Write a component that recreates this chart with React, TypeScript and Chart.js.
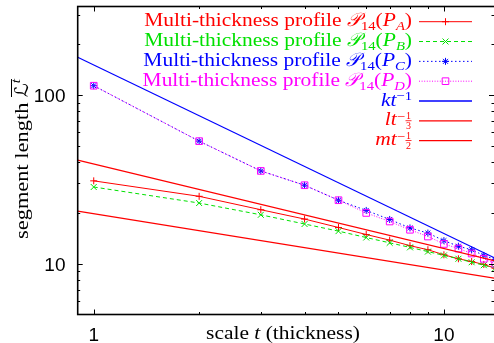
import React, { useEffect, useRef } from "react";
import { Chart, registerables } from "chart.js";
Chart.register(...registerables);

// ---------- data ----------
const thickness = [1, 2, 3, 4, 5, 6, 7, 8, 9, 10, 11, 12, 13, 14];
const profileA = [31.0, 25.1, 20.9, 18.4, 16.4, 14.9, 13.8, 12.8, 12.1, 11.3, 10.7, 10.3, 9.9, 9.4];
const profileB = [28.5, 22.9, 19.5, 17.2, 15.6, 14.3, 13.3, 12.5, 11.8, 11.2, 10.7, 10.2, 9.8, 9.4];
const profileC = [113.6, 53.3, 35.5, 29.2, 23.8, 20.7, 18.3, 16.3, 15.2, 13.7, 12.7, 12.1, 11.2, 10.6];
const profileD = [113.6, 53.3, 35.5, 29.2, 23.8, 20.0, 17.8, 15.9, 14.5, 13.1, 12.3, 11.5, 10.7, 10.0];
// fitted power laws, end points read at t = 0.9 and t = 14
const fitT = [0.9, 14];
const fitK = [167.6, 10.8]; // k t^-1
const fitL = [20.5, 8.2]; // l t^-1/3
const fitM = [41.1, 10.4]; // m t^-1/2

const xMajorTicks = [1, 10];
const xTickLabels = ["1", "10"];
const xMinorTicks = [2, 3, 4, 5, 6, 7, 8, 9];
const yMajorTicks = [10, 100];
const yTickLabels = ["10", "100"];
const yMinorTicks = [6, 7, 8, 9, 20, 30, 40, 50, 60, 70, 80, 90, 200, 300];

const profileLetters = ["A", "B", "C", "D"];
const profileText = "Multi-thickness profile ";
const xTitleParts = ["scale ", "t", " (thickness)"];
const yTitleText = "segment length ";

// ---------- styles ----------
const RED = "#ff0000";
const GREEN = "#00e000";
const BLUE = "#0000ff";
const MAGENTA = "#ff00ff";

const SERIF = "'Liberation Serif', 'Times New Roman', serif";
const SANS = "'Liberation Sans', Arial, sans-serif";
const RM = `19px ${SERIF}`;
const IT = `italic 19px ${SERIF}`;
const SUB = `13px ${SERIF}`;
const SUBIT = `italic 13px ${SERIF}`;
const FRAC = `10px ${SERIF}`;
const SCRIPT = `italic 19px 'DejaVu Serif', 'DejaVu Sans', serif`;
const SX = 1.13;

type Seg = { text?: string; font: string; dy?: number; frac?: [string, string]; over?: boolean; sx?: number };

function segWidth(ctx: CanvasRenderingContext2D, s: Seg, sxDef: number) {
  ctx.font = s.font;
  if (s.frac) {
    return Math.max(ctx.measureText(s.frac[0]).width, ctx.measureText(s.frac[1]).width) + 2;
  }
  return ctx.measureText(s.text || "").width * (s.sx ?? sxDef);
}

function drawRich(ctx: CanvasRenderingContext2D, segs: Seg[], x: number, y: number, align: "left" | "right" | "center", sxDef = SX) {
  const widths = segs.map((s) => segWidth(ctx, s, sxDef));
  const total = widths.reduce((a, b) => a + b, 0);
  let cx = align === "left" ? x : align === "right" ? x - total : x - total / 2;
  let o0 = Infinity, o1 = -Infinity;
  ctx.textAlign = "left";
  ctx.textBaseline = "alphabetic";
  segs.forEach((s, i) => {
    const w = widths[i];
    ctx.font = s.font;
    const yy = y + (s.dy || 0);
    if (s.frac) {
      const mid = cx + w / 2;
      ctx.textAlign = "center";
      ctx.fillText(s.frac[0], mid, yy - 1.5);
      ctx.fillText(s.frac[1], mid, yy + 8.5);
      ctx.textAlign = "left";
      ctx.fillRect(cx + 0.5, yy - 0.5, w - 1, 0.8);
    } else {
      ctx.save();
      ctx.translate(cx, yy);
      ctx.scale(s.sx ?? sxDef, 1);
      ctx.fillText(s.text || "", 0, 0);
      ctx.restore();
    }
    if (s.over) {
      o0 = Math.min(o0, cx);
      o1 = Math.max(o1, cx + w);
    }
    cx += w;
  });
  if (o1 > o0) ctx.fillRect(o0, y - 17, o1 - o0, 1);
}

function drawMarker(ctx: CanvasRenderingContext2D, style: string, x: number, y: number, r: number) {
  ctx.beginPath();
  if (style === "cross" || style === "star") {
    ctx.moveTo(x - r, y); ctx.lineTo(x + r, y);
    ctx.moveTo(x, y - r); ctx.lineTo(x, y + r);
  }
  if (style === "crossRot" || style === "star") {
    const d = r * Math.SQRT1_2;
    ctx.moveTo(x - d, y - d); ctx.lineTo(x + d, y + d);
    ctx.moveTo(x - d, y + d); ctx.lineTo(x + d, y - d);
  }
  if (style === "rect") {
    const d = r * Math.SQRT1_2;
    ctx.rect(x - d, y - d, 2 * d, 2 * d);
  }
  ctx.stroke();
}

const profileSegs = (letter: string): Seg[] => [
  { text: profileText, font: RM },
  { text: "\u{1D4AB}", font: SCRIPT, sx: 1 },
  { text: "14", font: SUB, dy: 4 },
  { text: "(", font: RM },
  { text: "P", font: IT },
  { text: letter, font: SUBIT, dy: 4 },
  { text: ")", font: RM },
];

const legendRows = [
  { segs: profileSegs(profileLetters[0]), color: RED, dash: [] as number[], marker: "cross", r: 3.5 },
  { segs: profileSegs(profileLetters[1]), color: GREEN, dash: [4, 3], marker: "crossRot", r: 4.2 },
  { segs: profileSegs(profileLetters[2]), color: BLUE, dash: [1.5, 2.5], marker: "star", r: 3.5 },
  { segs: profileSegs(profileLetters[3]), color: MAGENTA, dash: [1, 1.6], marker: "rect", r: 4.7 },
  { segs: [{ text: "kt", font: IT }, { text: "\u22121", font: SUB, dy: -6 }] as Seg[], color: BLUE, dash: [], marker: "", r: 0 },
  { segs: [{ text: "lt", font: IT }, { text: "\u2212", font: SUB, dy: -4 }, { frac: ["1", "3"], font: FRAC, dy: -4.5 }] as Seg[], color: RED, dash: [], marker: "", r: 0 },
  { segs: [{ text: "mt", font: IT }, { text: "\u2212", font: SUB, dy: -4 }, { frac: ["1", "2"], font: FRAC, dy: -4.5 }] as Seg[], color: RED, dash: [], marker: "", r: 0 },
];

const decor = {
  id: "decor",
  afterDraw(chart: any) {
    const ctx: CanvasRenderingContext2D = chart.ctx;
    const { left, right, top, bottom } = chart.chartArea;
    const xs = chart.scales.x;
    const ys = chart.scales.y;
    ctx.save();
    // frame
    ctx.strokeStyle = "#000";
    ctx.lineWidth = 1.6;
    ctx.setLineDash([]);
    ctx.strokeRect(left, top, right + 1 - left, bottom - top);
    // ticks
    ctx.lineWidth = 1;
    const tx = (v: number, len: number) => {
      const p = Math.round(xs.getPixelForValue(v)) + 0.5;
      ctx.beginPath();
      ctx.moveTo(p, bottom); ctx.lineTo(p, bottom - len);
      ctx.moveTo(p, top); ctx.lineTo(p, top + len);
      ctx.stroke();
    };
    const ty = (v: number, len: number) => {
      const p = Math.round(ys.getPixelForValue(v)) + 0.5;
      ctx.beginPath();
      ctx.moveTo(left, p); ctx.lineTo(left + len, p);
      ctx.moveTo(right, p); ctx.lineTo(right - len, p);
      ctx.stroke();
    };
    xMajorTicks.forEach((v) => tx(v, 5));
    xMinorTicks.forEach((v) => tx(v, 2.5));
    yMajorTicks.forEach((v) => ty(v, 5));
    yMinorTicks.forEach((v) => ty(v, 2.5));
    // tick labels
    ctx.fillStyle = "#000";
    ctx.font = `19px ${SANS}`;
    ctx.textBaseline = "alphabetic";
    ctx.textAlign = "center";
    xMajorTicks.forEach((v, i) => ctx.fillText(xTickLabels[i], xs.getPixelForValue(v), 340.5));
    ctx.textAlign = "right";
    yMajorTicks.forEach((v, i) => ctx.fillText(yTickLabels[i], 65.5, ys.getPixelForValue(v) + 6.8));
    // axis titles
    drawRich(ctx, [
      { text: xTitleParts[0], font: RM },
      { text: xTitleParts[1], font: IT },
      { text: xTitleParts[2], font: RM },
    ], 283, 338.5, "center");
    ctx.save();
    ctx.translate(28, 159);
    ctx.rotate(-Math.PI / 2);
    drawRich(ctx, [
      { text: yTitleText, font: RM },
      { text: "\u2112", font: SCRIPT, sx: 1, over: true },
      { text: "t", font: SUBIT, dy: -8, over: true },
    ], 0, 0, "center", 1.18);
    ctx.restore();
    // legend
    legendRows.forEach((row, i) => {
      const ly = 21.7 + i * 19.83;
      ctx.fillStyle = row.color;
      drawRich(ctx, row.segs, 412, ly + 4.5, "right");
      ctx.strokeStyle = row.color;
      ctx.lineWidth = row.marker ? 1 : 1.3;
      ctx.setLineDash(row.dash);
      ctx.beginPath();
      ctx.moveTo(419, ly); ctx.lineTo(472, ly);
      ctx.stroke();
      ctx.setLineDash([]);
      ctx.lineWidth = 1;
      if (row.marker) drawMarker(ctx, row.marker, 445.5, ly, row.r);
    });
    ctx.restore();
  },
};

export default function App() {
  const ref = useRef<HTMLCanvasElement>(null);
  useEffect(() => {
    document.body.style.margin = "0";
    const canvas = ref.current!;
    const series = (ys: number[], color: string, dash: number[], style: string, r: number) => ({
      data: thickness.map((t, i) => ({ x: t, y: ys[i] })),
      showLine: true,
      borderColor: color,
      borderWidth: 1,
      borderDash: dash,
      pointStyle: style,
      pointRadius: r,
      pointBorderColor: color,
      pointBackgroundColor: "rgba(0,0,0,0)",
      pointBorderWidth: 1,
    });
    const fit = (ys: number[], color: string) => ({
      data: fitT.map((t, i) => ({ x: t, y: ys[i] })),
      showLine: true,
      borderColor: color,
      borderWidth: 1.2,
      pointRadius: 0,
    });
    const chart = new Chart(canvas, {
      type: "scatter",
      data: {
        // drawn last-to-first: first entries end on top
        datasets: [
          fit(fitM, RED),
          fit(fitL, RED),
          fit(fitK, BLUE),
          series(profileD, MAGENTA, [1, 1.6], "rect", 4.7),
          series(profileC, BLUE, [1.5, 2.5], "star", 3.5),
          series(profileB, GREEN, [4, 3], "crossRot", 4.2),
          series(profileA, RED, [], "cross", 3.5),
        ] as any,
      },
      options: {
        responsive: false,
        animation: false,
        devicePixelRatio: 1,
        events: [],
        layout: { autoPadding: false, padding: { left: 77.7, top: 6.5, right: 0, bottom: 28.5 } },
        plugins: { legend: { display: false }, tooltip: { enabled: false } },
        scales: {
          x: { type: "logarithmic", min: 0.9, max: 13.9, display: false },
          y: { type: "logarithmic", min: 5, max: 335, display: false },
        },
      },
      plugins: [decor],
    });
    return () => chart.destroy();
  }, []);
  return <canvas ref={ref} width={494} height={343} style={{ display: "block" }} />;
}
